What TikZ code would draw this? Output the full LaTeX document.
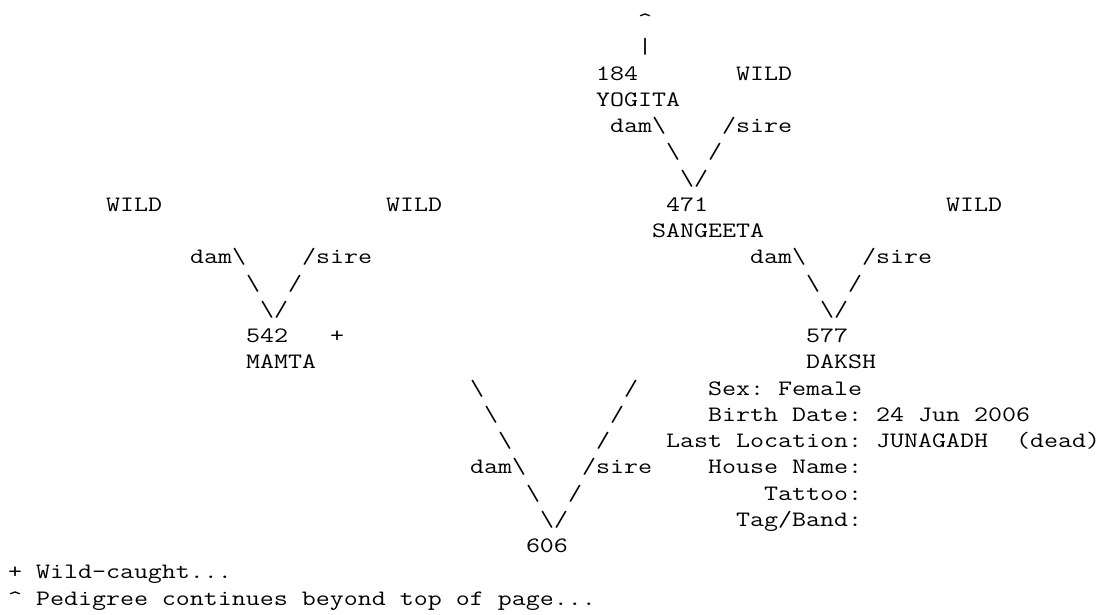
\documentclass[tikz,border=0pt]{standalone}
\newlength\mycw
\newcommand\mono{\fontsize{22}{26}\selectfont\ttfamily\frenchspacing}
\newcommand\sbx[1]{\scalebox{\sx}[1]{#1}}
\newcommand\tx[3]{\node[txt] (r#1c#2) at ({8+14*#2},{-(27.5+26.25*#1)}) {\sbx{#3}};}
\newcommand\bs{\textbackslash}
\tikzset{txt/.style={anchor=base west, inner sep=0pt, outer sep=0pt, font=\mono, text=black}}
\begin{document}
\settowidth{\mycw}{\mono M}%
\pgfmathsetmacro\sx{14/\mycw}%
\begin{tikzpicture}[x=1pt,y=1pt]
\fill[white] (0,0) rectangle (1104,-614);
\useasboundingbox (0,0) rectangle (1104,-614);
% top: 184 YOGITA -> 471
\tx{0}{45}{\textasciicircum}
\tx{1}{45}{\textbar}
\tx{2}{42}{184}
\tx{2}{52}{WILD}
\tx{3}{42}{YOGITA}
\tx{4}{43}{dam\bs}
\tx{4}{51}{/sire}
\tx{5}{47}{\bs}
\tx{5}{50}{/}
\tx{6}{48}{\bs/}
% generation row
\tx{7}{7}{WILD}
\tx{7}{27}{WILD}
\tx{7}{47}{471}
\tx{7}{67}{WILD}
\tx{8}{46}{SANGEETA}
% 542 MAMTA
\tx{9}{13}{dam\bs}
\tx{9}{21}{/sire}
\tx{10}{17}{\bs}
\tx{10}{20}{/}
\tx{11}{18}{\bs/}
\tx{12}{17}{542}
\tx{12}{23}{+}
\tx{13}{17}{MAMTA}
% 577 DAKSH
\tx{9}{53}{dam\bs}
\tx{9}{61}{/sire}
\tx{10}{57}{\bs}
\tx{10}{60}{/}
\tx{11}{58}{\bs/}
\tx{12}{57}{577}
\tx{13}{57}{DAKSH}
% 606
\tx{14}{33}{\bs}
\tx{14}{44}{/}
\tx{15}{34}{\bs}
\tx{15}{43}{/}
\tx{16}{35}{\bs}
\tx{16}{42}{/}
\tx{17}{33}{dam\bs}
\tx{17}{41}{/sire}
\tx{18}{37}{\bs}
\tx{18}{40}{/}
\tx{19}{38}{\bs/}
\tx{20}{37}{606}
% info block
\tx{14}{50}{Sex: Female}
\tx{15}{50}{Birth Date: 24 Jun 2006}
\tx{16}{47}{Last Location: JUNAGADH~~(dead)}
\tx{17}{50}{House Name:}
\tx{18}{54}{Tattoo:}
\tx{19}{52}{Tag/Band:}
% legend
\tx{21}{0}{+ Wild-caught...}
\tx{22}{0}{\textasciicircum{} Pedigree continues beyond top of page...}
\end{tikzpicture}
\end{document}
